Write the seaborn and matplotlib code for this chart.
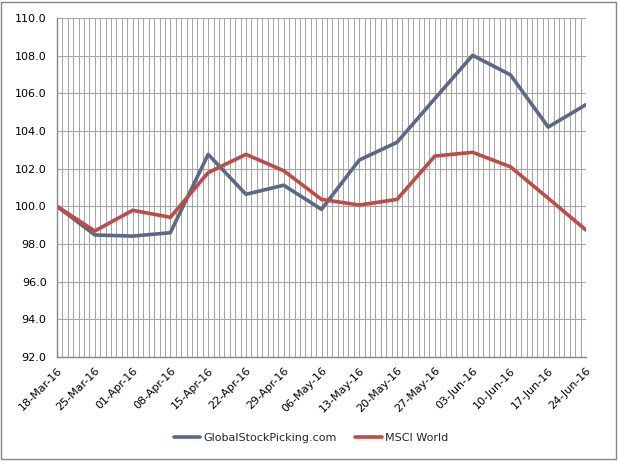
import matplotlib
matplotlib.use("Agg")
import matplotlib.pyplot as plt
import matplotlib.dates as mdates
from matplotlib.patches import Rectangle
from matplotlib.ticker import MultipleLocator, FormatStrFormatter
import seaborn as sns
import pandas as pd

dates = ["2016-03-18", "2016-03-25", "2016-04-01", "2016-04-08", "2016-04-15",
         "2016-04-22", "2016-04-29", "2016-05-06", "2016-05-13", "2016-05-20",
         "2016-05-27", "2016-06-03", "2016-06-10", "2016-06-17", "2016-06-24"]
global_stock = [100.0, 98.48, 98.42, 98.6, 102.76, 100.64, 101.12, 99.84,
                102.46, 103.4, 105.72, 108.02, 106.98, 104.21, 105.4]
msci_world = [100.0, 98.69, 99.79, 99.42, 101.79, 102.76, 101.89, 100.37,
              100.07, 100.37, 102.67, 102.87, 102.1, 100.43, 98.74]
series_names = ["GlobalStockPicking.com", "MSCI World"]

df = pd.DataFrame({
    "date": pd.to_datetime(dates * 2),
    "value": global_stock + msci_world,
    "series": [series_names[0]] * len(dates) + [series_names[1]] * len(dates),
})

sns.set_style("white")
plt.rcParams["font.family"] = ["DejaVu Sans"]

fig = plt.figure(figsize=(6.18, 4.61), dpi=100)
ax = fig.add_axes([57 / 618, 1 - 357 / 461, (586 - 57) / 618, (357 - 18) / 461])

palette = {series_names[0]: "#5C6886", series_names[1]: "#BE4B48"}
sns.lineplot(data=df, x="date", y="value", hue="series", palette=palette,
             linewidth=2.6, ax=ax, legend=True)

ax.set_xlim(pd.Timestamp(dates[0]), pd.Timestamp(dates[-1]))
ax.set_ylim(92, 110)
ax.yaxis.set_major_locator(MultipleLocator(2))
ax.yaxis.set_major_formatter(FormatStrFormatter("%.1f"))
ax.xaxis.set_major_locator(mdates.WeekdayLocator(byweekday=mdates.FR))
ax.xaxis.set_minor_locator(mdates.DayLocator())
ax.xaxis.set_major_formatter(mdates.DateFormatter("%d-%b-%y"))

grid_color = "#A6A6A6"
ax.grid(True, which="major", axis="y", color=grid_color, linewidth=0.8)
ax.grid(True, which="both", axis="x", color=grid_color, linewidth=0.75)
ax.set_axisbelow(True)

for side in ["top", "right"]:
    ax.spines[side].set_visible(False)
for side in ["left", "bottom"]:
    ax.spines[side].set_color("#868686")
    ax.spines[side].set_linewidth(1.0)

ax.tick_params(axis="both", which="major", direction="out", length=4,
               color="#868686", labelsize=8, labelcolor="#000000")
ax.tick_params(axis="x", which="minor", length=0)
ax.tick_params(axis="x", which="major", pad=2)
for lbl in ax.get_xticklabels():
    lbl.set_rotation(45)
    lbl.set_ha("right")
    lbl.set_rotation_mode("anchor")

ax.set_xlabel("")
ax.set_ylabel("")

handles, labels = ax.get_legend_handles_labels()
ax.legend(handles, labels, loc="center", bbox_to_anchor=(0.48, -0.24),
          ncol=2, frameon=False, fontsize=8, handlelength=2.4,
          columnspacing=1.6, handletextpad=0.3)
for line in ax.get_legend().get_lines():
    line.set_linewidth(2.6)

fig.patches.append(Rectangle((1 / 618, 2 / 461), 615 / 618, 457 / 461,
                             transform=fig.transFigure, fill=False,
                             edgecolor="#868686", linewidth=1.0))

fig.savefig("out.png", dpi=100)
